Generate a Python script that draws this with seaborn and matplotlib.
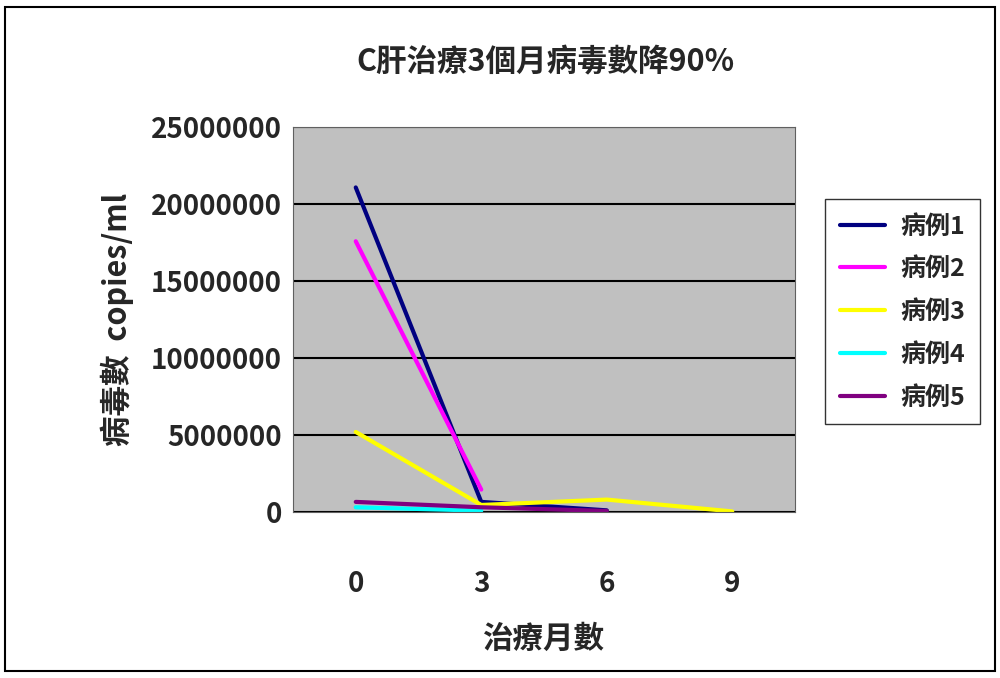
import matplotlib
matplotlib.use("Agg")
import matplotlib.pyplot as plt
import seaborn as sns
import pandas as pd

# 治療月數 (category axis)
meses = ["0", "3", "6", "9"]
caso1 = [21100000, 650000, 100000, None]
caso2 = [17600000, 1450000, None, None]
caso3 = [5200000, 450000, 800000, 30000]
caso4 = [300000, 80000, None, None]
caso5 = [650000, 300000, 60000, None]

nomes = ["病例1", "病例2", "病例3", "病例4", "病例5"]
cores = ["#000080", "#FF00FF", "#FFFF00", "#00FFFF", "#800080"]

linhas = []
for nome, vals in zip(nomes, [caso1, caso2, caso3, caso4, caso5]):
    for i, v in enumerate(vals):
        if v is not None:
            linhas.append({"x": i, "v": v, "caso": nome})
tabela = pd.DataFrame(linhas)

sns.set_style("white")
plt.rcParams["font.family"] = ["Noto Sans CJK TC", "DejaVu Sans"]
plt.rcParams["font.weight"] = "bold"

fig = plt.figure(figsize=(10, 6.78), dpi=100)
ax = fig.add_axes([0.293, 0.245, 0.502, 0.567])
ax.set_facecolor("#C0C0C0")

sns.lineplot(data=tabela, x="x", y="v", hue="caso", palette=cores,
             linewidth=3, ax=ax)

ax.set_xlim(-0.5, 3.5)
ax.set_ylim(0, 25000000)
ax.set_yticks(range(0, 25000001, 5000000))
ax.set_yticklabels([str(t) for t in range(0, 25000001, 5000000)], fontsize=20)
ax.set_xticks(range(4))
ax.set_xticklabels(meses, fontsize=20)
ax.tick_params(axis="x", pad=42, length=0)
ax.tick_params(axis="y", length=0, pad=8)
ax.grid(axis="y", color="black", linewidth=1.5)
for s in ax.spines.values():
    s.set_color("#606060")
ax.set_xlabel("治療月數", fontsize=22, fontweight="bold", labelpad=18)
ax.set_ylabel("病毒數  copies/ml", fontsize=22, fontweight="bold", labelpad=12)
fig.text(0.545, 0.895, "C肝治療3個月病毒數降90%", ha="center", fontsize=22,
         fontweight="bold")

leg = ax.legend(loc="center left", bbox_to_anchor=(1.035, 0.52), fontsize=18,
                frameon=True, fancybox=False, edgecolor="black",
                handlelength=1.8, handletextpad=0.6, labelspacing=0.75,
                borderpad=0.6)
for h in leg.get_lines():
    h.set_linewidth(3)

fig.patches.append(plt.Rectangle((0.005, 0.01), 0.99, 0.98, transform=fig.transFigure,
                                 fill=False, edgecolor="black", linewidth=1.5))
fig.savefig("out.png", dpi=100)
